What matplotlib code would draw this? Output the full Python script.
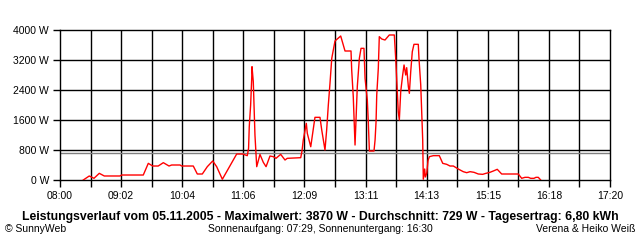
import numpy as np
import matplotlib.pyplot as plt

# minutes since midnight and power in W
minutes = [503.7, 509.8, 514.6, 520.0, 525.1, 541.0, 542.8, 564.8, 569.9, 574.4,
           580.0, 585.2, 591.0, 593.7, 602.2, 603.9, 615.7, 619.8, 624.9, 630.0,
           635.5, 639.5, 645.3, 659.9, 666.0, 670.7, 672.0, 672.7, 674.1, 675.2,
           675.5, 676.8, 677.5, 678.5, 679.5, 680.3, 683.6, 687.0, 689.8, 693.8,
           697.2, 699.9, 704.7, 709.1, 711.4, 725.1, 726.4, 727.7, 730.8, 731.8,
           735.3, 739.6, 744.7, 746.5, 749.8, 751.5, 753.2, 754.9, 756.7, 760.0,
           765.8, 770.2, 776.3, 777.0, 778.6, 780.4, 782.7, 784.8, 786.5, 789.5,
           790.6, 792.9, 793.9, 795.0, 799.7, 800.8, 801.8, 802.5, 804.1, 805.1,
           807.6, 810.9, 815.3, 820.4, 821.8, 822.8, 824.4, 825.5, 826.9, 828.9,
           830.3, 832.0, 833.0, 834.7, 835.7, 837.1, 838.7, 840.4, 844.8, 845.5,
           847.3, 848.3, 849.3, 849.9, 851.3, 852.0, 853.4, 854.7, 856.1, 860.1,
           866.2, 869.7, 873.7, 877.1, 880.5, 885.5, 890.6, 894.1, 897.5, 901.5,
           905.9, 910.4, 913.7, 917.8, 921.2, 925.2, 929.7, 946.6, 950.1, 953.4,
           956.8, 959.2, 962.6, 964.6, 967.0, 969.4]
watts = [0, 107, 45, 178, 107, 107, 133, 133, 444, 373,
         373, 462, 373, 400, 400, 373, 373, 160, 160, 356,
         507, 356, 20, 693, 693, 649, 845, 1422, 2000, 2711,
         3022, 2622, 2000, 1200, 729, 355, 682, 471, 355, 640,
         622, 578, 684, 533, 578, 595, 773, 1067, 1511, 1244,
         887, 1671, 1671, 1333, 800, 1333, 2000, 2578, 3244, 3707,
         3840, 3440, 3440, 2933, 2222, 933, 2489, 3244, 3511, 3511,
         2711, 2133, 1555, 773, 773, 1067, 1555, 2267, 2979, 3822,
         3760, 3733, 3867, 3867, 3244, 2711, 1822, 1600, 2355, 2800,
         3067, 2800, 2995, 2489, 2311, 2889, 3422, 3618, 3618, 3244,
         2533, 1822, 1067, 20, 293, 80, 178, 515, 622, 649,
         649, 444, 418, 373, 373, 293, 222, 195, 222, 205,
         160, 151, 178, 205, 240, 285, 160, 160, 45, 71,
         71, 45, 45, 71, 71, 0]
avg_watt = 729

x_labels = ["08:00", "09:02", "10:04", "11:06", "12:09",
            "13:11", "14:13", "15:15", "16:18", "17:20"]
y_values = [0, 800, 1600, 2400, 3200, 4000]

title = ("Leistungsverlauf vom 05.11.2005 - Maximalwert: 3870 W - "
         "Durchschnitt: 729 W - Tagesertrag: 6,80 kWh")
footer_left = "\u00a9 SunnyWeb"
footer_mid = "Sonnenaufgang: 07:29, Sonnenuntergang: 16:30"
footer_right = "Verena & Heiko Wei\u00df"

plt.rcParams['font.family'] = ['Liberation Sans', 'DejaVu Sans']

fig = plt.figure(figsize=(6.4, 2.4), dpi=100)
ax = fig.add_axes([60 / 640, 60 / 240, 550 / 640, 150 / 240])
ax.set_xlim(480, 1040)
ax.set_ylim(0, 4000)

grid_x = np.linspace(480, 1040, 19)
for gx in grid_x[1:-1]:
    ax.axvline(gx, color='black', lw=1.0, zorder=1)
for gy in y_values[1:-1]:
    ax.axhline(gy, color='black', lw=1.0, zorder=1)
ax.axhline(avg_watt, color='#808080', lw=1.0, zorder=2)

ax.plot(minutes, watts, color='red', lw=1.0, zorder=3)

ax.set_xticks(grid_x[::2])
ax.set_xticklabels(x_labels)
ax.set_xticks(grid_x, minor=True)
ax.set_yticks(y_values)
ax.set_yticklabels([f"{v} W" for v in y_values])
ax.tick_params(which='both', length=5, width=1.0, color='black',
               labelsize=7.5, pad=3)
for s in ax.spines.values():
    s.set_linewidth(1.0)

fig.text(320 / 640, 1 - 217 / 240, title, ha='center', va='center',
         fontsize=8.8, fontweight='bold')
fig.text(5 / 640, 1 - 229 / 240, footer_left, ha='left', va='center', fontsize=7.5)
fig.text(320 / 640, 1 - 229 / 240, footer_mid, ha='center', va='center', fontsize=7.5)
fig.text(635 / 640, 1 - 229 / 240, footer_right, ha='right', va='center', fontsize=7.5)

fig.savefig("out.png", dpi=100, facecolor='white')
